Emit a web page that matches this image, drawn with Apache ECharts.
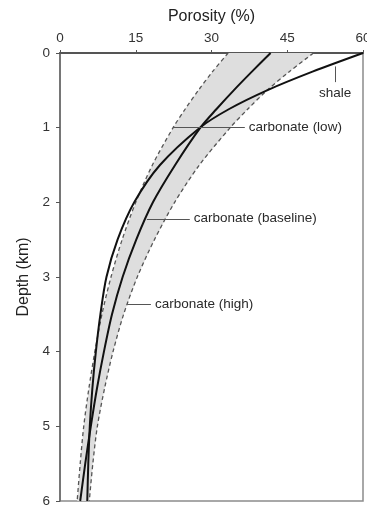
<!DOCTYPE html>
<html>
<head>
<meta charset="utf-8">
<script src="https://cdn.jsdelivr.net/npm/echarts@6/dist/echarts.min.js"></script>
<style>
  html, body { margin: 0; padding: 0; background: #fff; }
  #chart { width: 367px; height: 506px; }
</style>
</head>
<body>
<div id="chart"></div>
<script>
// Depth samples (km) shared by every porosity profile
const depthKm = [0, 0.25, 0.5, 0.75, 1, 1.5, 2, 2.5, 3, 3.5, 4, 4.5, 5, 5.5, 6];

// Porosity (%) at each depth
const shalePct        = [60, 50.0, 41.0, 33.5, 27.7, 19.8, 14.7, 11.4, 9.2, 8.0, 7.1, 6.4, 5.9, 5.6, 5.4];
const carbBaselinePct = [41.7, 38.0, 34.4, 31.0, 27.8, 22.8, 18.4, 15.1, 12.4, 10.3, 8.7, 7.3, 6.1, 5.0, 4.0];
const carbLowPct      = [33.3, 30.2, 27.4, 24.8, 22.4, 18.3, 15.0, 12.3, 10.1, 8.3, 6.9, 5.7, 4.7, 4.0, 3.4];
const carbHighPct     = [50.2, 45.4, 41.0, 37.2, 33.7, 27.6, 22.7, 18.7, 15.3, 12.6, 10.5, 8.8, 7.4, 6.5, 5.8];

// Axis ticks
const porosityTicks = [0, 15, 30, 45, 60];
const depthTicks = [0, 1, 2, 3, 4, 5, 6];

const FONT = "'Liberation Sans', Arial, sans-serif";
const pairs = (xs) => xs.map((x, i) => [x, depthKm[i]]);

const leaderLabel = (text, pos) => ({
  show: true, position: pos, formatter: text, distance: 4,
  color: '#2a2a2a', fontSize: 13.5, fontFamily: FONT
});
const leaderLine = { color: '#555', width: 1, type: 'solid' };

const chart = echarts.init(document.getElementById('chart'));
chart.setOption({
  animation: false,
  backgroundColor: '#fff',
  grid: {
    left: 60, right: 4, top: 53, bottom: 5,
    outerBoundsMode: 'none',
    containLabel: false,
    show: true, borderColor: '#8c8c8c', borderWidth: 1.5
  },
  xAxis: {
    type: 'value', position: 'top',
    min: porosityTicks[0], max: porosityTicks[porosityTicks.length - 1], interval: 15,
    name: 'Porosity (%)', nameLocation: 'middle', nameGap: 28,
    nameTextStyle: { fontSize: 16, color: '#222', fontFamily: FONT },
    axisLine: { show: true, lineStyle: { color: '#555', width: 2 } },
    axisTick: { show: true, length: 3, lineStyle: { color: '#555', width: 1 } },
    axisLabel: { margin: 8, fontSize: 13.5, color: '#333', fontFamily: FONT },
    splitLine: { show: false }
  },
  yAxis: {
    type: 'value', inverse: true,
    min: depthTicks[0], max: depthTicks[depthTicks.length - 1], interval: 1,
    name: 'Depth (km)', nameLocation: 'middle', nameGap: 28, nameRotate: 90,
    nameTextStyle: { fontSize: 16, color: '#222', fontFamily: FONT },
    axisLine: { show: true, lineStyle: { color: '#666', width: 1.5 } },
    axisTick: { show: true, length: 4, lineStyle: { color: '#555', width: 1 } },
    axisLabel: { margin: 10, fontSize: 13.5, color: '#333', fontFamily: FONT },
    splitLine: { show: false }
  },
  series: [
    {
      // shaded envelope between the low and high carbonate profiles
      type: 'custom',
      z: 1,
      silent: true,
      data: [[0, 0]],
      renderItem: function (params, api) {
        const pts = [];
        for (let i = 0; i < depthKm.length; i++) pts.push(api.coord([carbLowPct[i], depthKm[i]]));
        for (let i = depthKm.length - 1; i >= 0; i--) pts.push(api.coord([carbHighPct[i], depthKm[i]]));
        return { type: 'polygon', shape: { points: pts }, style: { fill: '#dedede' } };
      }
    },
    {
      name: 'carbonate (low)', type: 'line', z: 3, data: pairs(carbLowPct),
      smooth: 0.3, showSymbol: false,
      lineStyle: { color: '#555', width: 1.3, type: [4, 3] },
      markLine: {
        silent: true, symbol: ['none', 'none'], lineStyle: leaderLine,
        label: leaderLabel('carbonate (low)', 'end'),
        data: [[{ coord: [22.4, 1] }, { coord: [36.6, 1] }]]
      }
    },
    {
      name: 'carbonate (high)', type: 'line', z: 3, data: pairs(carbHighPct),
      smooth: 0.3, showSymbol: false,
      lineStyle: { color: '#555', width: 1.3, type: [4, 3] },
      markLine: {
        silent: true, symbol: ['none', 'none'], lineStyle: leaderLine,
        label: leaderLabel('carbonate (high)', 'end'),
        data: [[{ coord: [13.3, 3.37] }, { coord: [18.0, 3.37] }]]
      }
    },
    {
      name: 'carbonate (baseline)', type: 'line', z: 4, data: pairs(carbBaselinePct),
      smooth: 0.3, showSymbol: false,
      lineStyle: { color: '#111', width: 2 },
      markLine: {
        silent: true, symbol: ['none', 'none'], lineStyle: leaderLine,
        label: leaderLabel('carbonate (baseline)', 'end'),
        data: [[{ coord: [17.2, 2.22] }, { coord: [25.7, 2.22] }]]
      }
    },
    {
      name: 'shale', type: 'line', z: 4, data: pairs(shalePct),
      smooth: 0.3, showSymbol: false,
      lineStyle: { color: '#111', width: 2 },
      markLine: {
        silent: true, symbol: ['none', 'none'], lineStyle: leaderLine,
        label: leaderLabel('shale', 'end'),
        data: [[{ coord: [54.5, 0.18] }, { coord: [54.5, 0.39] }]]
      }
    }
  ]
});
</script>
</body>
</html>
